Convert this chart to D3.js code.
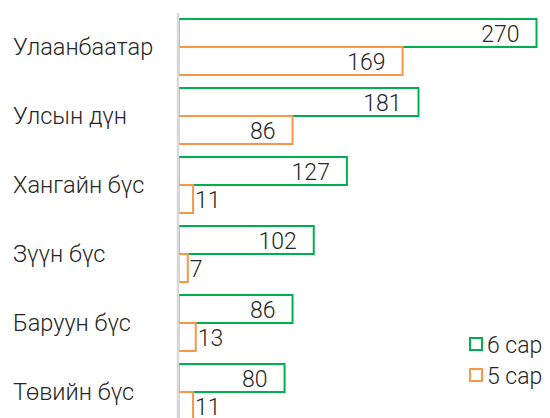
<!DOCTYPE html>
<html>
<head>
<meta charset="utf-8">
<script src="https://cdn.jsdelivr.net/npm/d3@7"></script>
<style>
  html, body { margin: 0; padding: 0; background: #fff; }
  svg { display: block; }
  text { font-family: Roboto, "Noto Sans", sans-serif; font-weight: 300; fill: #262626; }
</style>
</head>
<body>
<svg id="chart" width="550" height="418"></svg>
<script>
const categories = ["Улаанбаатар", "Улсын дүн", "Хангайн бүс", "Зүүн бүс", "Баруун бүс", "Төвийн бүс"];
const seriesNames = ["6 сар", "5 сар"];
const values6 = [270, 181, 127, 102, 86, 80];
const values5 = [169, 86, 11, 7, 13, 11];
const colors = ["#00B050", "#F79646"];

const W = 550, H = 418;
const svg = d3.select("#chart");

const x = d3.scaleLinear().domain([0, 270]).range([178.5, 536.5]);
const y = d3.scaleBand().domain(categories).range([12.5, 426.5]).paddingInner(13 / 69).paddingOuter(13 / 138);
const ySub = d3.scaleBand().domain(seriesNames).range([0, y.bandwidth()]);

const seriesValues = [values6, values5];
const data = [];
categories.forEach((c, i) => {
  seriesNames.forEach((s, j) => {
    data.push({ cat: c, series: s, value: seriesValues[j][i], color: colors[j] });
  });
});

const fontSize = 23;

// bars
svg.append("g").selectAll("rect").data(data).join("rect")
  .attr("x", x(0))
  .attr("y", d => y(d.cat) + ySub(d.series))
  .attr("width", d => x(d.value) - x(0))
  .attr("height", ySub.bandwidth())
  .attr("fill", "#fff")
  .attr("stroke", d => d.color)
  .attr("stroke-width", 2);

// axis line
svg.append("line")
  .attr("x1", x(0) - 0.5).attr("x2", x(0) - 0.5)
  .attr("y1", 13).attr("y2", H)
  .attr("stroke", "#d9d9d9").attr("stroke-width", 2.5);

// value labels
svg.append("g").selectAll("text").data(data).join("text")
  .attr("font-size", fontSize)
  .attr("dominant-baseline", "central")
  .attr("y", d => y(d.cat) + ySub(d.series) + ySub.bandwidth() / 2 + 1)
  .each(function (d) {
    const barW = x(d.value) - x(0);
    const t = d3.select(this).text(d.value);
    if (barW > 60) {
      t.attr("x", x(d.value) - 17).attr("text-anchor", "end");
    } else {
      t.attr("x", x(d.value) + 2).attr("text-anchor", "start");
    }
  });

// category labels
svg.append("g").selectAll("text").data(categories).join("text")
  .attr("font-size", 23.5)
  .attr("x", 13)
  .attr("y", d => y(d) + y.bandwidth() / 2)
  .attr("dominant-baseline", "central")
  .text(d => d);

// legend
const legend = svg.append("g");
seriesNames.forEach((s, j) => {
  const ly = 344 + j * 31;
  legend.append("rect")
    .attr("x", 470).attr("y", ly - 6)
    .attr("width", 12).attr("height", 12)
    .attr("fill", "#fff").attr("stroke", colors[j]).attr("stroke-width", 2);
  legend.append("text")
    .attr("x", 487).attr("y", ly + 1)
    .attr("font-size", 23)
    .attr("dominant-baseline", "central")
    .text(s);
});
</script>
</body>
</html>
